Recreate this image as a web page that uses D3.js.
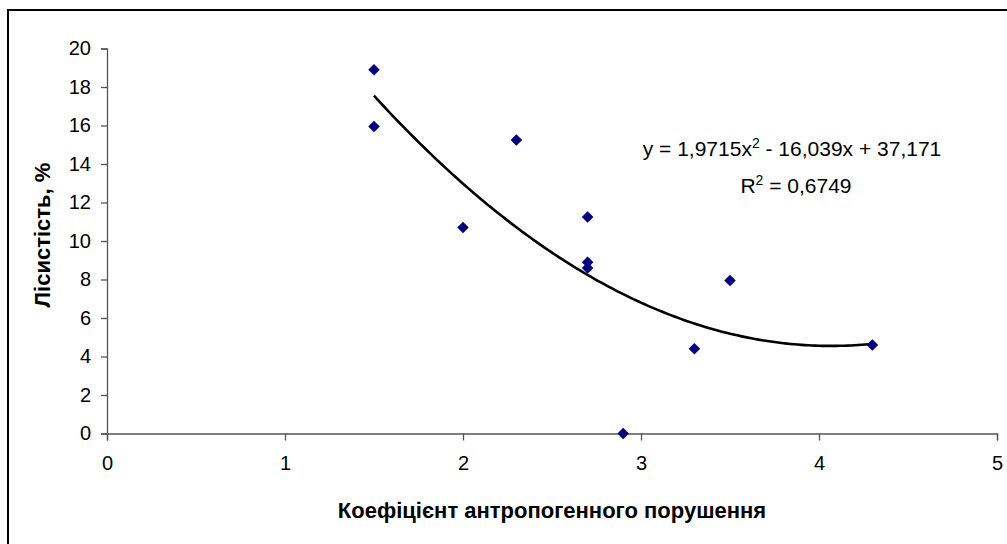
<!DOCTYPE html>
<html><head><meta charset="utf-8">
<script src="https://cdn.jsdelivr.net/npm/d3@7"></script>
<style>body{margin:0;background:#fff;} svg{display:block;font-family:"Liberation Sans",Arial,sans-serif;}</style>
</head><body>
<svg id="c" width="1007" height="544"></svg>
<script>
const xValues = [1.5, 1.5, 2.0, 2.3, 2.7, 2.7, 2.7, 2.9, 3.3, 3.5, 4.3];
const yValues = [18.9, 15.95, 10.7, 15.25, 11.25, 8.9, 8.6, 0, 4.4, 7.95, 4.6];
const xTicks = [0, 1, 2, 3, 4, 5];
const yTicks = [0, 2, 4, 6, 8, 10, 12, 14, 16, 18, 20];
const trendCoef = [1.9715, -16.039, 37.171];
const xTitle = "Коефіцієнт антропогенного порушення";
const yTitle = "Лісистість, %";

const svg = d3.select("#c");
svg.append("rect").attr("x", 8).attr("y", 10).attr("width", 1010).attr("height", 540)
  .attr("fill", "#fff").attr("stroke", "#000").attr("stroke-width", 2);

const x = d3.scaleLinear().domain([0, 5]).range([107, 997]);
const y = d3.scaleLinear().domain([0, 20]).range([433.5, 48.5]);

const gx = svg.append("g").attr("transform", `translate(0,${y(0)})`)
  .call(d3.axisBottom(x).tickValues(xTicks).tickSize(7).tickPadding(15).tickFormat(d3.format("d")));
const gy = svg.append("g").attr("transform", `translate(${x(0)},0)`)
  .call(d3.axisLeft(y).tickValues(yTicks).tickSize(6).tickPadding(10).tickFormat(d3.format("d")));
[gx, gy].forEach(g => {
  g.select(".domain").attr("stroke", "#555").attr("stroke-width", 1.3);
  g.selectAll(".tick line").attr("stroke", "#555").attr("stroke-width", 1.3);
  g.selectAll(".tick text").attr("font-size", 20).attr("fill", "#000")
    .attr("font-family", "Liberation Sans, Arial, sans-serif");
});

// trendline
const xs = d3.range(1.5, 4.3001, 0.02);
const poly = v => trendCoef[0]*v*v + trendCoef[1]*v + trendCoef[2];
svg.append("path").datum(xs)
  .attr("d", d3.line().x(d => x(d)).y(d => y(poly(d))))
  .attr("fill", "none").attr("stroke", "#000").attr("stroke-width", 2.6);

// points
const pts = xValues.map((v, i) => [v, yValues[i]]);
svg.append("g").selectAll("path").data(pts).join("path")
  .attr("transform", d => `translate(${x(d[0])},${y(d[1])})`)
  .attr("d", d3.symbol(d3.symbolDiamond2, 85))
  .attr("fill", "#000080");

// equation
const eq = svg.append("text").attr("x", 792).attr("y", 156).attr("text-anchor", "middle")
  .attr("font-size", 21).attr("fill", "#000");
eq.append("tspan").text("y = 1,9715x");
eq.append("tspan").attr("dy", -8).attr("font-size", 14).text("2");
eq.append("tspan").attr("dy", 8).text(" - 16,039x + 37,171");
const r2 = svg.append("text").attr("x", 796).attr("y", 193).attr("text-anchor", "middle")
  .attr("font-size", 21).attr("fill", "#000");
r2.append("tspan").text("R");
r2.append("tspan").attr("dy", -8).attr("font-size", 14).text("2");
r2.append("tspan").attr("dy", 8).text(" = 0,6749");

svg.append("text").attr("x", 552).attr("y", 518).attr("text-anchor", "middle")
  .attr("font-size", 22).attr("font-weight", "bold").text(xTitle);
svg.append("text").attr("transform", "translate(50,235) rotate(-90)").attr("text-anchor", "middle")
  .attr("font-size", 22).attr("font-weight", "bold").text(yTitle);
</script>
</body></html>
